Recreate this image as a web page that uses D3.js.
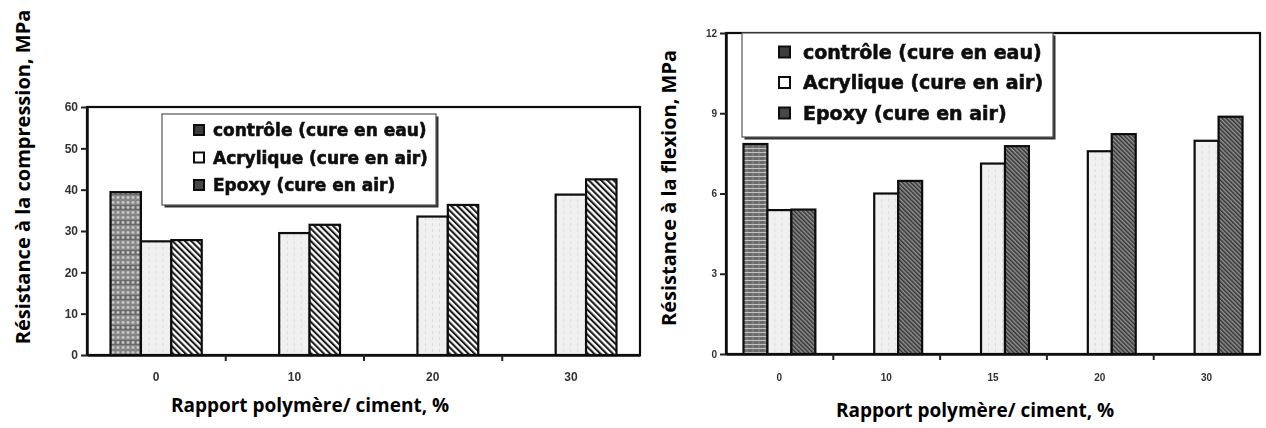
<!DOCTYPE html>
<html>
<head>
<meta charset="utf-8">
<script src="https://cdn.jsdelivr.net/npm/d3@7"></script>
<style>
  html, body { margin: 0; padding: 0; background: #fff; }
  svg { display: block; }
</style>
</head>
<body>
<script>
// ---- data : compression (left) ----
const compCategories = ["0", "10", "20", "30"];
const compControle   = [39.4, null, null, null];
const compAcrylique  = [27.5, 29.5, 33.5, 38.8];
const compEpoxy      = [27.8, 31.5, 36.3, 42.5];
const compTicks      = [0, 10, 20, 30, 40, 50, 60];

// ---- data : flexion (right) ----
const flexCategories = ["0", "10", "15", "20", "30"];
const flexControle   = [7.85, null, null, null, null];
const flexAcrylique  = [5.38, 6.0, 7.12, 7.58, 7.97];
const flexEpoxy      = [5.4, 6.47, 7.77, 8.22, 8.87];
const flexTicks      = [0, 3, 6, 9, 12];

const seriesNames = ["controle", "acrylique", "epoxy"];
const legendLabels = ["contrôle (cure en eau)", "Acrylique (cure en air)", "Epoxy (cure en air)"];
const yTitles = ["Résistance à la compression, MPa", "Résistance à la flexion, MPa"];
const xTitle = "Rapport polymère/ ciment, %";

const W = 1266, H = 428;
const svg = d3.select("body").append("svg").attr("width", W).attr("height", H);
const defs = svg.append("defs");

// soft edges of the plotted graphics
defs.append("filter").attr("id", "soft")
  .append("feGaussianBlur").attr("stdDeviation", 0.45);

// ---- fill patterns ----
function dotPattern(id, bg, dot, size, r) {
  const p = defs.append("pattern").attr("id", id).attr("patternUnits", "userSpaceOnUse")
    .attr("width", size).attr("height", size * 3);
  p.append("rect").attr("width", size).attr("height", size * 3).attr("fill", bg);
  p.append("rect").attr("y", size * 2).attr("width", size).attr("height", size).attr("fill", "#6a6a6a");
  [0, 1, 2].forEach(k => p.append("circle").attr("cx", size / 2).attr("cy", size / 2 + k * size)
    .attr("r", r).attr("fill", dot));
}
function hatchPattern(id, bg, line, size, lw) {
  const p = defs.append("pattern").attr("id", id).attr("patternUnits", "userSpaceOnUse")
    .attr("width", size).attr("height", size).attr("patternTransform", "rotate(-45)");
  p.append("rect").attr("width", size).attr("height", size).attr("fill", bg);
  p.append("rect").attr("width", lw).attr("height", size).attr("fill", line);
}
function stripePattern(id, bg, line, size) {
  const p = defs.append("pattern").attr("id", id).attr("patternUnits", "userSpaceOnUse")
    .attr("width", 6).attr("height", size);
  p.append("rect").attr("width", 6).attr("height", size).attr("fill", bg);
  p.append("rect").attr("width", 6).attr("height", 1).attr("fill", line);
  p.append("rect").attr("x", 3).attr("y", 1).attr("width", 1).attr("height", size - 1).attr("fill", "#8a8a8a");
}
function lightPattern(id) {
  const p = defs.append("pattern").attr("id", id).attr("patternUnits", "userSpaceOnUse")
    .attr("width", 7).attr("height", 6);
  p.append("rect").attr("width", 7).attr("height", 6).attr("fill", "#f0f0f0");
  p.append("rect").attr("x", 3).attr("y", 1).attr("width", 1).attr("height", 3).attr("fill", "#dcdcdc");
}
dotPattern("ctrlL", "#858585", "#cfcfcf", 5, 1.4);
lightPattern("acr");
hatchPattern("epoL", "#ffffff", "#1a1a1a", 4.4, 2.1);
stripePattern("ctrlR", "#6a6a6a", "#c4c4c4", 4);
hatchPattern("epoR", "#929292", "#333333", 3, 1.5);

function drawChart(opt) {
  const g = svg.append("g");
  const plot = g.append("g").attr("filter", "url(#soft)");

  const x0 = d3.scaleBand().domain(opt.categories)
    .range([opt.left, opt.right]).paddingInner(opt.padIn).paddingOuter(opt.padOut);
  const x1 = d3.scaleBand().domain(seriesNames).range([0, x0.bandwidth()]);
  const y = d3.scaleLinear().domain([0, opt.ticks[opt.ticks.length - 1]]).range([opt.bottom, opt.top]);
  const xEdge = d3.scaleLinear().domain([0, opt.categories.length]).range([opt.left, opt.right]);

  // frame
  plot.append("rect").attr("x", opt.left).attr("y", opt.top)
    .attr("width", opt.right - opt.left).attr("height", opt.bottom - opt.top)
    .attr("fill", "none").attr("stroke", "#111").attr("stroke-width", 2.2);

  // bars
  const rows = opt.categories.map((c, i) => ({
    cat: c,
    values: seriesNames.map((s, k) => ({ s, v: opt.series[k][i] })).filter(d => d.v != null)
  }));
  const grp = plot.selectAll("g.cat").data(rows).join("g").attr("class", "cat")
    .attr("transform", d => `translate(${x0(d.cat)},0)`);
  grp.selectAll("rect").data(d => d.values).join("rect")
    .attr("x", d => x1(d.s))
    .attr("y", d => y(d.v))
    .attr("width", x1.bandwidth())
    .attr("height", d => y(0) - y(d.v))
    .attr("fill", d => `url(#${opt.fills[seriesNames.indexOf(d.s)]})`)
    .attr("stroke", "#0e0e0e").attr("stroke-width", 2.2);

  // y axis
  const ya = plot.append("g").attr("transform", `translate(${opt.left},0)`)
    .call(d3.axisLeft(y).tickValues(opt.ticks).tickSize(6).tickPadding(3).tickSizeOuter(0));
  ya.select(".domain").attr("stroke", "#111").attr("stroke-width", 2.5);
  ya.selectAll(".tick line").attr("stroke", "#222").attr("stroke-width", 2);
  ya.selectAll(".tick text").attr("font-family", "Liberation Sans, Arial, sans-serif")
    .attr("font-weight", "bold").attr("font-size", opt.yTickSize).attr("fill", "#333");

  // x axis: edge ticks between groups, labels at group centres
  const xe = plot.append("g").attr("transform", `translate(0,${opt.bottom})`)
    .call(d3.axisBottom(xEdge).tickValues(d3.range(1, opt.categories.length)).tickFormat("").tickSize(6).tickSizeOuter(0));
  xe.select(".domain").attr("stroke", "#111").attr("stroke-width", 2.5);
  xe.selectAll(".tick line").attr("stroke", "#222").attr("stroke-width", 2);
  const xl = plot.append("g").attr("transform", `translate(0,${opt.bottom})`)
    .call(d3.axisBottom(x0).tickSize(0).tickPadding(opt.xLabelPad));
  xl.select(".domain").remove();
  xl.selectAll(".tick text").attr("font-family", "Liberation Sans, Arial, sans-serif")
    .attr("font-weight", "bold").attr("font-size", opt.xTickSize).attr("fill", "#333");

  // legend
  const lg = plot.append("g");
  lg.append("rect").attr("x", opt.legend.x + 2.5).attr("y", opt.legend.y + 2.5)
    .attr("width", opt.legend.w).attr("height", opt.legend.h).attr("fill", "#333");
  lg.append("rect").attr("x", opt.legend.x).attr("y", opt.legend.y)
    .attr("width", opt.legend.w).attr("height", opt.legend.h)
    .attr("fill", "#fff").attr("stroke", "#555").attr("stroke-width", 1.2);
  const symFill = ["#3c3c3c", "#ffffff", "#474747"];
  legendLabels.forEach((t, i) => {
    const cy = opt.legend.row0 + i * opt.legend.step;
    lg.append("rect").attr("x", opt.legend.sx).attr("y", cy - opt.legend.sym / 2)
      .attr("width", opt.legend.sym).attr("height", opt.legend.sym)
      .attr("fill", symFill[i]).attr("stroke", "#111").attr("stroke-width", 2);
    lg.append("text").attr("x", opt.legend.tx).attr("y", cy).attr("dy", "0.36em")
      .attr("font-family", "DejaVu Sans, sans-serif").attr("font-weight", "bold")
      .attr("font-size", opt.legend.fs).attr("fill", "#111")
      .attr("stroke", "#111").attr("stroke-width", 0.6).text(t);
  });

  // titles (crisp)
  g.append("text").attr("transform", `translate(${opt.yTitleX},${opt.yTitleY}) rotate(-90)`)
    .attr("text-anchor", "middle").attr("dy", "0.35em")
    .attr("font-family", "Open Sans, sans-serif").attr("font-weight", "bold")
    .attr("font-size", 20).attr("fill", "#000").text(opt.yTitle);
  g.append("text").attr("x", opt.xTitleX).attr("y", opt.xTitleY)
    .attr("text-anchor", "middle").attr("dy", "0.35em")
    .attr("font-family", "Open Sans, sans-serif").attr("font-weight", "bold")
    .attr("font-size", 19).attr("fill", "#000").text(xTitle);
}

drawChart({
  categories: compCategories,
  series: [compControle, compAcrylique, compEpoxy],
  ticks: compTicks,
  fills: ["ctrlL", "acr", "epoL"],
  left: 87, right: 640, top: 107, bottom: 355,
  padIn: 0.34, padOut: 0.17,
  yTickSize: 12, xTickSize: 12, xLabelPad: 17,
  legend: { x: 162, y: 114, w: 274, h: 91, row0: 130, step: 27.5, sx: 194, sym: 10, tx: 213, fs: 17 },
  yTitle: yTitles[0], yTitleX: 23, yTitleY: 177,
  xTitleX: 310, xTitleY: 405
});

drawChart({
  categories: flexCategories,
  series: [flexControle, flexAcrylique, flexEpoxy],
  ticks: flexTicks,
  fills: ["ctrlR", "acr", "epoR"],
  left: 726, right: 1260, top: 33, bottom: 354,
  padIn: 0.327, padOut: 0.1635,
  yTickSize: 10, xTickSize: 10, xLabelPad: 20,
  legend: { x: 742, y: 33, w: 311, h: 104, row0: 52, step: 30.5, sx: 779, sym: 11, tx: 803, fs: 19 },
  yTitle: yTitles[1], yTitleX: 669, yTitleY: 188,
  xTitleX: 975, xTitleY: 410
});
</script>
</body>
</html>
